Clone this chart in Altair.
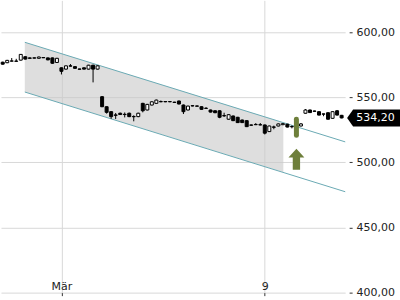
import altair as alt
import pandas as pd

opens = [577.0, 576.6, 577.8, 577.9, 578.6, 581.2, 580.3, 580.1, 580.0, 580.6,
         580.3, 580.3, 576.8, 572.7, 571.7, 574.2, 573.6, 571.8, 572.7, 571.7,
         574.7, 571.7, 550.5, 542.8, 539.0, 536.5, 537.8, 537.0, 537.8, 535.3,
         535.2, 545.4, 540.3, 544.1, 545.4, 546.8, 546.8, 546.6, 546.3, 547.2,
         544.1, 540.3, 543.6, 543.4, 542.8, 541.6, 540.3, 539.7, 539.7, 536.0,
         533.2, 535.7, 534.7, 532.6, 532.1, 528.8, 529.2, 529.0, 528.8, 523.7,
         527.3, 528.0, 529.0, 529.4, 527.6, 529.2, 528.0, 537.8, 540.3, 539.5,
         539.0, 537.3, 538.2, 533.9, 539.7, 536.2]
closes = [575.5, 578.4, 578.0, 577.7, 583.0, 579.4, 580.0, 580.4, 581.0, 580.4,
          578.8, 576.2, 580.0, 570.0, 574.2, 574.0, 572.3, 571.6, 571.7, 574.7,
          571.7, 574.2, 542.8, 538.5, 535.2, 536.2, 536.8, 536.8, 535.2, 535.1,
          537.8, 539.7, 544.6, 546.6, 547.9, 546.6, 546.6, 546.8, 546.1, 544.9,
          539.0, 543.3, 543.4, 543.2, 540.8, 541.5, 538.7, 538.2, 534.7, 535.8,
          536.7, 532.1, 530.6, 530.6, 527.5, 528.6, 529.0, 528.8, 522.5, 528.0,
          527.0, 529.6, 529.8, 527.2, 527.4, 527.8, 529.6, 540.3, 538.3, 539.3,
          536.4, 537.1, 533.2, 539.0, 536.4, 534.2]
highs = [577.4, 578.8, 580.2, 579.6, 583.3, 581.5, 580.6, 580.7, 581.3, 580.9,
         580.6, 580.6, 580.3, 573.0, 574.5, 575.6, 573.9, 572.0, 573.0, 575.0,
         575.0, 574.5, 551.0, 543.1, 539.4, 538.0, 538.3, 538.4, 538.3, 536.2,
         538.2, 545.8, 545.0, 547.0, 548.3, 547.6, 547.1, 547.1, 546.6, 547.5,
         544.5, 543.6, 543.9, 543.7, 543.1, 542.5, 540.6, 540.0, 540.0, 538.2,
         537.0, 536.0, 535.0, 532.9, 532.4, 529.1, 530.2, 530.3, 529.1, 528.3,
         528.3, 529.9, 530.1, 529.7, 528.5, 529.5, 530.3, 541.0, 540.6, 539.8,
         539.3, 537.4, 538.5, 539.3, 540.3, 536.5]
lows = [575.2, 576.3, 577.5, 577.5, 578.3, 579.1, 579.8, 579.9, 579.8, 580.2,
        578.5, 575.8, 576.5, 567.6, 571.4, 573.7, 572.0, 571.4, 571.4, 571.4,
        561.5, 571.4, 542.5, 537.5, 533.5, 533.4, 536.5, 534.6, 534.8, 531.6,
        534.8, 538.5, 540.0, 543.8, 545.1, 546.3, 546.3, 546.3, 545.8, 544.6,
        537.2, 540.0, 543.1, 542.9, 540.5, 541.2, 538.4, 537.9, 534.0, 535.0,
        532.9, 531.8, 530.3, 530.3, 527.2, 528.3, 528.7, 528.5, 521.5, 523.4,
        525.5, 527.7, 528.7, 526.9, 526.2, 527.5, 527.7, 537.5, 538.0, 539.0,
        536.1, 535.5, 532.9, 533.6, 536.1, 533.9]

tick_pos = [13, 58]
tick_labels = ["Mär", "9"]
y_ticks = [400, 450, 500, 550, 600]

chan_x = [4.9, 75.8]
chan_upper = [592.3, 515.8]
chan_lower = [554.1, 477.5]
shade_x = [4.9, 62.1]
shade_upper = [592.3, 530.6]
shade_lower = [554.1, 492.4]

signal_x = [65]
signal_top = [533.2]
signal_bottom = [520.8]
arrow_y = [502.4]
last_price = [534.20]
last_label = ["534,20"]

candles = pd.DataFrame({"i": list(range(len(opens))), "open": opens, "close": closes,
                        "high": highs, "low": lows})
channel = pd.DataFrame({"i": chan_x, "upper": chan_upper, "lower": chan_lower})
shade = pd.DataFrame({"i": shade_x, "upper": shade_upper, "lower": shade_lower})
signal = pd.DataFrame({"i": signal_x, "top": signal_top, "bottom": signal_bottom, "arrow": arrow_y})
last = pd.DataFrame({"price": last_price, "label": last_label})

FONT = "DejaVu Sans"
xscale = alt.Scale(domain=[-0.375, 75.78], nice=False, zero=False, padding=0)
yscale = alt.Scale(domain=[400, 624.5], nice=False, zero=False, padding=0)

label_expr = " : ".join(
    [f"datum.value == {p} ? '{l}'" for p, l in zip(tick_pos, tick_labels)]) + " : ''"
xaxis = alt.Axis(values=tick_pos, labelExpr=label_expr, grid=True, gridColor="#d8d8d8",
                 domain=False, tickSize=3, tickColor="#333333", labelPadding=-15,
                 labelFont=FONT, labelFontSize=11, labelColor="#222222", title=None)
yaxis = alt.Axis(values=y_ticks, orient="right",
                 labelExpr="replace(format(datum.value, '.2f'), '.', ',')",
                 grid=True, gridColor="#d8d8d8", domain=False, tickSize=3, offset=4,
                 tickColor="#333333", labelPadding=4, labelFont=FONT, labelFontSize=11,
                 labelColor="#222222", title=None)


def X(f):
    return alt.X(f, type="quantitative", scale=xscale, axis=xaxis, title=None)


def Y(f):
    return alt.Y(f, type="quantitative", scale=yscale, axis=yaxis, title=None)


area = alt.Chart(shade).mark_area(color="#c8c8c8", opacity=0.6).encode(
    x=X("i"), y=Y("upper"), y2="lower")
up_line = alt.Chart(channel).mark_line(color="#6aaab4", strokeWidth=1).encode(
    x=X("i"), y=Y("upper"))
lo_line = alt.Chart(channel).mark_line(color="#6aaab4", strokeWidth=1).encode(
    x=X("i"), y=Y("lower"))
wicks = alt.Chart(candles).mark_rule(color="black", strokeWidth=1).encode(
    x=X("i"), y=Y("low"), y2="high")
bodies = alt.Chart(candles).mark_bar(size=3, stroke="black", strokeWidth=1).encode(
    x=X("i"), y=Y("open"), y2="close",
    fill=alt.condition("datum.close >= datum.open", alt.value("white"), alt.value("black")))
sig = alt.Chart(signal).mark_rule(color="#6e7f3b", strokeWidth=5, strokeCap="round").encode(
    x=X("i"), y=Y("top"), y2="bottom")
arrow_path = ("M 0 -1 L 0.76 -0.17 L 0.35 -0.17 L 0.35 1 L -0.35 1 "
              "L -0.35 -0.17 L -0.76 -0.17 Z")
arrow = alt.Chart(signal).mark_point(shape=arrow_path, size=441, filled=True,
                                     color="#6e7f3b", opacity=1, strokeWidth=0).encode(
    x=X("i"), y=Y("arrow"))
badge_path = "M -1 0 L -0.774 -0.32 L 1 -0.32 L 1 0.32 L -0.774 0.32 Z"
badge = alt.Chart(last).mark_point(shape=badge_path, size=2809, filled=True,
                                   color="black", opacity=1, strokeWidth=0).encode(
    x=alt.value(373.5), y=Y("price"))
badge_text = alt.Chart(last).mark_text(color="white", font=FONT, fontSize=11,
                                       align="center", baseline="middle").encode(
    x=alt.value(375.5), y=Y("price"), text="label")

chart = alt.layer(area, up_line, lo_line, wicks, bodies, sig, arrow, badge, badge_text).properties(
    width=345, height=293, padding=0, background="white"
).configure_view(stroke=None)

chart.save("out.html", embed_options={"renderer": "svg", "actions": False})
